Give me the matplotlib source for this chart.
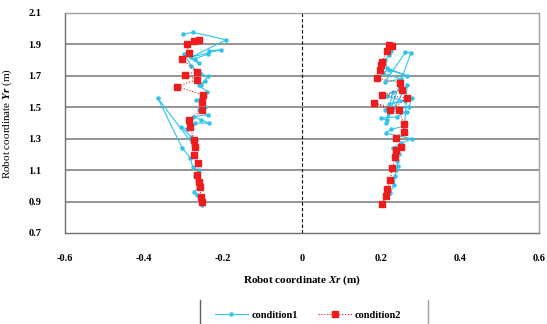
import matplotlib
matplotlib.use("Agg")
import matplotlib.pyplot as plt
from matplotlib.lines import Line2D

plt.rcParams['font.family'] = ['Liberation Serif', 'DejaVu Serif']
plt.rcParams['mathtext.fontset'] = 'custom'
plt.rcParams['mathtext.it'] = 'Liberation Serif:italic:bold'
plt.rcParams['mathtext.rm'] = 'Liberation Serif'

# condition1 (left trajectory)
c1_left_x = [-0.252, -0.256, -0.266, -0.273, -0.262, -0.265, -0.270, -0.262, -0.277, -0.283,
             -0.303, -0.365, -0.275, -0.268, -0.281, -0.307, -0.290, -0.270, -0.235, -0.255,
             -0.275, -0.239, -0.262, -0.245, -0.250, -0.268, -0.255, -0.240, -0.262, -0.245,
             -0.255, -0.239, -0.258, -0.280, -0.298, -0.262, -0.270, -0.239, -0.235, -0.205,
             -0.280, -0.192, -0.275, -0.301]
c1_left_y = [0.878, 0.910, 0.940, 0.963, 0.990, 1.030, 1.060, 1.100, 1.122, 1.180,
             1.240, 1.558, 1.260, 1.290, 1.313, 1.377, 1.360, 1.400, 1.399, 1.420,
             1.440, 1.452, 1.480, 1.500, 1.520, 1.545, 1.560, 1.600, 1.640, 1.670,
             1.640, 1.696, 1.720, 1.760, 1.838, 1.780, 1.810, 1.838, 1.860, 1.866,
             1.820, 1.929, 1.977, 1.966]
# condition1 (right trajectory)
c1_right_x = [0.224, 0.233, 0.236, 0.238, 0.242, 0.240, 0.245, 0.230, 0.250, 0.278,
              0.212, 0.225, 0.260, 0.266, 0.215, 0.199, 0.240, 0.265, 0.210, 0.270,
              0.278, 0.220, 0.260, 0.215, 0.230, 0.212, 0.276, 0.262, 0.210, 0.250,
              0.205, 0.220, 0.265, 0.215, 0.210, 0.220, 0.225]
c1_right_y = [0.957, 1.006, 1.060, 1.100, 1.127, 1.160, 1.200, 1.240, 1.270, 1.300,
              1.335, 1.360, 1.380, 1.640, 1.420, 1.430, 1.440, 1.470, 1.480, 1.500,
              1.560, 1.520, 1.540, 1.570, 1.600, 1.400, 1.848, 1.850, 1.660, 1.680,
              1.720, 1.740, 1.700, 1.750, 1.800, 1.830, 1.860]

# condition2 (left trajectory)
c2_left_x = [-0.252, -0.256, -0.258, -0.260, -0.267, -0.263, -0.273, -0.270, -0.273, -0.283,
             -0.286, -0.253, -0.252, -0.250, -0.316, -0.267, -0.296, -0.267, -0.304, -0.286,
             -0.292, -0.273, -0.260]
c2_left_y = [0.899, 0.931, 0.995, 1.027, 1.069, 1.144, 1.197, 1.250, 1.292, 1.377,
             1.420, 1.483, 1.536, 1.579, 1.632, 1.675, 1.706, 1.727, 1.806, 1.845,
             1.904, 1.919, 1.929]
# condition2 (right trajectory)
c2_right_x = [0.203, 0.213, 0.214, 0.223, 0.229, 0.235, 0.237, 0.250, 0.237, 0.258,
              0.257, 0.246, 0.182, 0.223, 0.267, 0.203, 0.254, 0.248, 0.189, 0.197,
              0.199, 0.203, 0.216, 0.229, 0.220]
c2_right_y = [0.885, 0.936, 0.978, 1.038, 1.112, 1.186, 1.229, 1.250, 1.303, 1.345,
              1.394, 1.483, 1.530, 1.483, 1.558, 1.579, 1.611, 1.657, 1.685, 1.738,
              1.770, 1.791, 1.861, 1.887, 1.897]

x_ticks = [-0.6, -0.4, -0.2, 0, 0.2, 0.4, 0.6]
x_tick_labels = ['-0.6', '-0.4', '-0.2', '0', '0.2', '0.4', '0.6']
y_ticks = [0.7, 0.9, 1.1, 1.3, 1.5, 1.7, 1.9, 2.1]
y_tick_labels = ['0.7', '0.9', '1.1', '1.3', '1.5', '1.7', '1.9', '2.1']

cyan = '#2ec4ec'
red = '#ee1c1c'

fig = plt.figure(figsize=(5.47, 3.24), dpi=100)
ax = fig.add_axes([65/547, 1-233/324, (539-65)/547, (233-13)/324])

for yv in y_ticks[1:-1]:
    ax.axhline(yv, color='#8c8c8c', lw=1.3, zorder=0)
ax.axvline(0, color='black', lw=0.8, ls=(0, (3, 2)), zorder=1)

ax.plot(c1_left_x, c1_left_y, color=cyan, lw=0.8, marker='o', ms=2.2, zorder=2)
ax.plot(c1_right_x, c1_right_y, color=cyan, lw=0.8, marker='o', ms=2.2, zorder=2)
ax.plot(c2_left_x, c2_left_y, color=red, lw=0.8, ls=':', marker='s', ms=4.5, zorder=3)
ax.plot(c2_right_x, c2_right_y, color=red, lw=0.8, ls=':', marker='s', ms=4.5, zorder=3)

ax.set_xlim(-0.6, 0.6)
ax.set_ylim(0.7, 2.1)
ax.set_xticks(x_ticks)
ax.set_xticklabels(x_tick_labels, fontsize=7.5, fontweight='bold')
ax.set_yticks(y_ticks)
ax.set_yticklabels(y_tick_labels, fontsize=7.5, fontweight='bold')
ax.tick_params(axis='both', length=0)
ax.tick_params(axis='x', pad=15)
ax.tick_params(axis='y', pad=17)

for s in ['top', 'right']:
    ax.spines[s].set_color('#a0a0a0')
    ax.spines[s].set_linewidth(1.0)
for s in ['left', 'bottom']:
    ax.spines[s].set_color('#707070')
    ax.spines[s].set_linewidth(1.0)

ax.set_xlabel(r'Robot coordinate $\mathit{Xr}$ (m)', fontsize=8, fontweight='bold', labelpad=8)
ax.set_ylabel(r'Robot coordinate $\mathit{Yr}$ (m)', fontsize=8, labelpad=10)

h1 = Line2D([], [], color=cyan, lw=0.8, marker='o', ms=2.2)
h2 = Line2D([], [], color=red, lw=0.8, ls=':', marker='s', ms=4.5)
fig.legend([h1, h2], ['condition1', 'condition2'], loc='center',
           bbox_to_anchor=(308/547, 1-315/324), ncol=2, frameon=False,
           prop={'size': 7.5, 'weight': 'bold'}, handlelength=3.2, columnspacing=2.0,
           handletextpad=0.3)
fig.add_artist(Line2D([200/547, 200/547], [0, 1-300/324], color='#606060', lw=1.0))
fig.add_artist(Line2D([428/547, 428/547], [0, 1-300/324], color='#a0a0a0', lw=1.0))

fig.savefig('out.png', dpi=100)
